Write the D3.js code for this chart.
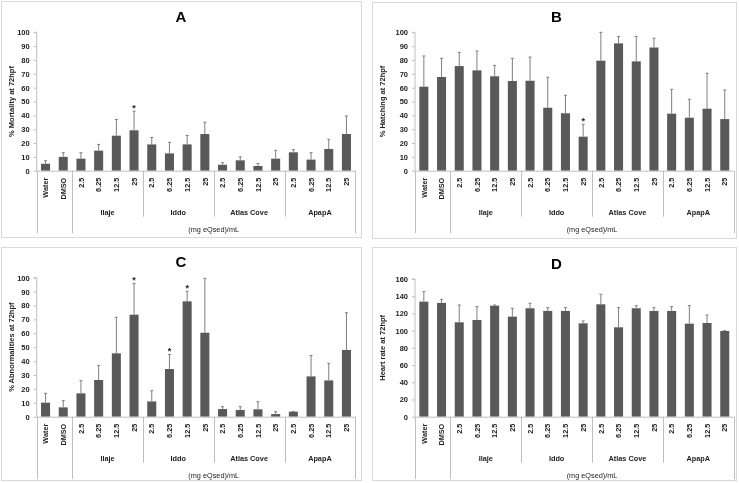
<!DOCTYPE html>
<html><head><meta charset="utf-8">
<script src="https://cdn.jsdelivr.net/npm/d3@7"></script>
<style>
body{margin:0;background:#fff;}
svg{display:block;font-family:"Liberation Sans",Arial,sans-serif;will-change:transform;}
</style></head>
<body><svg id="c" width="739" height="483"></svg>
<script>
// ---- data ----
const categories = ["Water","DMSO","2.5","6.25","12.5","25","2.5","6.25","12.5","25","2.5","6.25","12.5","25","2.5","6.25","12.5","25"];
const groups = ["Ilaje","Iddo","Atlas Cove","ApapA"];
const xTitle = "(mg eQsed)/mL";

const mortality    = [5,10,8.7,14.5,25.3,29.2,19,12.5,19,26.5,4.3,7.5,3.4,8.7,13.3,8,15.7,26.5];
const mortalitySD  = [2.2,3,4.3,4.5,11.7,13.8,5,8,6.5,8.5,1.5,2.5,1.9,6,1.9,5,7,13];
const mortalityStars = [5];

const hatching     = [60.7,67.7,75.6,72.5,68.2,64.8,65,45.5,41.5,24.6,79.5,92,79,89,41.2,38.3,44.8,37.3];
const hatchingSD   = [22.2,13.5,9.9,14,7.9,16.4,17.1,22,13,8.9,20.5,5,18,6.7,17.6,13.3,25.6,21];
const hatchingStars = [9];

const abnormal     = [10.1,6.7,16.8,26.4,45.6,73.4,11,34.3,83,60.4,5.5,4.8,5.3,1.9,3.6,29,26.1,48];
const abnormalSD   = [6.7,4.8,9.1,10.5,25.9,22.5,7.7,10.5,7.2,39.1,1.7,2.4,5.5,1.7,0.2,15,12.3,26.8];
const abnormalStars = [5,7,8];

const heartRate    = [133.7,132.2,109.7,112.4,129,116.3,126,122.9,122.9,108.5,130.6,103.9,126,122.9,122.9,108.1,108.9,99.6];
const heartRateSD  = [11.6,4.2,20.1,15.5,0.8,9.7,5.8,3.8,3.8,2.7,11.6,22.8,3,3.8,5,20.9,9.3,0.4];
const heartRateStars = [];

const panels = [
  {title:"A", ylabel:"% Mortality at 72hpf", v:mortality, sd:mortalitySD, stars:mortalityStars, ymax:100, step:10,
   frame:[1,1,360,236], L:36.7, R:355.3, T:32.3, B:170.7},
  {title:"B", ylabel:"% Hatching at 72hpf", v:hatching, sd:hatchingSD, stars:hatchingStars, ymax:100, step:10,
   frame:[372,2,364,236], L:415, R:733.6, T:32.3, B:170.7},
  {title:"C", ylabel:"% Abnormalities at 72hpf", v:abnormal, sd:abnormalSD, stars:abnormalStars, ymax:100, step:10,
   frame:[1,247,360,233], L:36.7, R:355.3, T:277.7, B:416.7},
  {title:"D", ylabel:"Heart rate at 72hpf", v:heartRate, sd:heartRateSD, stars:heartRateStars, ymax:160, step:20,
   frame:[372,247,364,233], L:415, R:733.6, T:279, B:416.7}
];

const svg = d3.select("#c");
const idx = d3.range(categories.length);

panels.forEach(p => {
  const g = svg.append("g");
  const [fx,fy,fw,fh] = p.frame;
  g.append("rect").attr("x",fx+0.5).attr("y",fy+0.5).attr("width",fw).attr("height",fh)
    .attr("fill","#fff").attr("stroke","#d9d9d9").attr("stroke-width",1);

  const x = d3.scaleBand().domain(idx).range([p.L,p.R]).paddingInner(0.49).paddingOuter(0.245);
  const y = d3.scaleLinear().domain([0,p.ymax]).range([p.B,p.T]);
  const step = x.step();

  // title
  g.append("text").attr("x",(p.L+p.R)/2 - (p.title==="A"||p.title==="C"?15:18)).attr("y",p.T-10.5)
    .attr("text-anchor","middle").attr("font-size",15).attr("font-weight","bold").attr("fill","#000").text(p.title);

  // y axis
  const ya = d3.axisLeft(y).tickValues(d3.range(0,p.ymax+0.001,p.step)).tickSize(3).tickPadding(4);
  const yg = g.append("g").attr("transform",`translate(${p.L},0)`).call(ya);
  yg.select(".domain").attr("stroke","#bfbfbf").attr("d",`M-3,${p.T}H0V${p.B}`);
  yg.selectAll(".tick line").attr("stroke","#bfbfbf");
  yg.selectAll(".tick text").attr("font-size",7.5).attr("font-weight","bold").attr("fill","#222")
    .attr("font-family","Liberation Sans, Arial, sans-serif");

  // y label
  g.append("text").attr("transform",`translate(${fx+13},${(p.T+p.B)/2}) rotate(-90)`)
    .attr("text-anchor","middle").attr("font-size",7.5).attr("font-weight","bold").attr("fill","#222").text(p.ylabel);

  // bars
  g.selectAll("rect.bar").data(idx).join("rect").attr("class","bar")
    .attr("x",i=>x(i)).attr("width",x.bandwidth())
    .attr("y",i=>y(p.v[i])).attr("height",i=>y(0)-y(p.v[i]))
    .attr("fill","#595959");

  // error bars (upper only)
  const eb = g.selectAll("g.eb").data(idx).join("g").attr("class","eb");
  eb.append("line").attr("x1",i=>x(i)+x.bandwidth()/2).attr("x2",i=>x(i)+x.bandwidth()/2)
    .attr("y1",i=>y(p.v[i])).attr("y2",i=>y(p.v[i]+p.sd[i])).attr("stroke","#7f7f7f").attr("stroke-width",1);
  eb.append("line").attr("x1",i=>x(i)+x.bandwidth()/2-1.5).attr("x2",i=>x(i)+x.bandwidth()/2+1.5)
    .attr("y1",i=>y(p.v[i]+p.sd[i])).attr("y2",i=>y(p.v[i]+p.sd[i])).attr("stroke","#7f7f7f").attr("stroke-width",1);

  // stars
  g.selectAll("text.star").data(p.stars).join("text").attr("class","star")
    .attr("x",i=>x(i)+x.bandwidth()/2).attr("y",i=>y(p.v[i]+p.sd[i])-0.5)
    .attr("text-anchor","middle").attr("font-size",9).attr("font-weight","bold").attr("fill","#222").text("*");

  // x axis baseline
  g.append("line").attr("x1",p.L).attr("x2",p.R).attr("y1",p.B+0.5).attr("y2",p.B+0.5).attr("stroke","#bfbfbf");

  // category labels
  g.selectAll("text.cat").data(idx).join("text").attr("class","cat")
    .attr("transform",i=>`translate(${x(i)+x.bandwidth()/2+2.7},${p.B+7}) rotate(-90)`)
    .attr("text-anchor","end").attr("font-size",7.3).attr("font-weight","bold").attr("fill","#222")
    .text(i=>categories[i]);

  // separators
  const full = [0,2,18], part = [6,10,14];
  const edge = k => p.L + k*step;
  full.forEach(k=> g.append("line").attr("x1",Math.round(edge(k))+0.5).attr("x2",Math.round(edge(k))+0.5)
     .attr("y1",p.B).attr("y2",p.B+62.5).attr("stroke","#bfbfbf"));
  part.forEach(k=> g.append("line").attr("x1",Math.round(edge(k))+0.5).attr("x2",Math.round(edge(k))+0.5)
     .attr("y1",p.B).attr("y2",p.B+46).attr("stroke","#bfbfbf"));

  // group labels
  groups.forEach((name,j)=>{
    const a = edge(2+4*j), b = edge(6+4*j);
    g.append("text").attr("x",(a+b)/2).attr("y",p.B+44).attr("text-anchor","middle")
      .attr("font-size",7.3).attr("font-weight","bold").attr("fill","#222").text(name);
  });
  // x title
  g.append("text").attr("x",(edge(2)+edge(18))/2).attr("y",p.B+61).attr("text-anchor","middle")
    .attr("font-size",7.3).attr("fill","#222").text(xTitle);
});
</script></body></html>
